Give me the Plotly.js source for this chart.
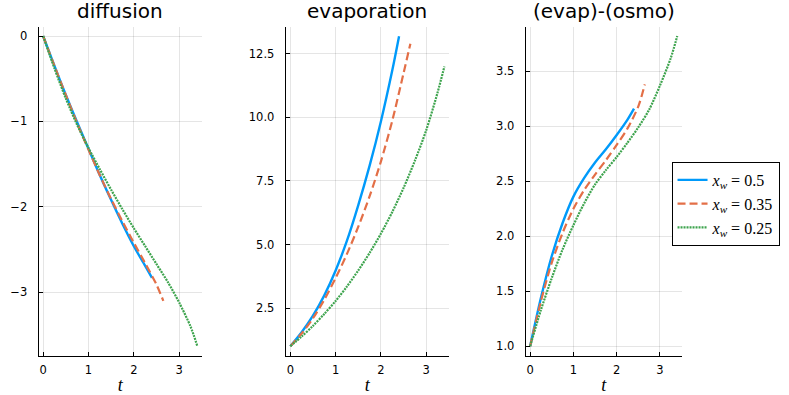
<!DOCTYPE html>
<html>
<head>
<meta charset="utf-8">
<script src="https://cdn.plot.ly/plotly-3.0.1.min.js"></script>
<style>
  html, body { margin: 0; padding: 0; background: #fff; }
  #plot { width: 789px; height: 395px; }
</style>
</head>
<body>
<div id="plot"></div>
<script>
// time points for each run (x_w = 0.5, 0.35, 0.25)
var tBlue   = [0, 0.25, 0.5, 0.75, 1, 1.25, 1.5, 1.75, 2, 2.25, 2.4];
var tOrange = [0, 0.25, 0.5, 0.75, 1, 1.25, 1.5, 1.75, 2, 2.25, 2.5, 2.65];
var tGreen  = [0, 0.25, 0.5, 0.75, 1, 1.25, 1.5, 1.75, 2, 2.25, 2.5, 2.75, 3, 3.25, 3.4];

// diffusion panel
var diffBlue   = [0, -0.35, -0.69, -1.01, -1.32, -1.63, -1.92, -2.20, -2.46, -2.69, -2.83];
var diffOrange = [0, -0.35, -0.69, -1.02, -1.33, -1.63, -1.91, -2.17, -2.42, -2.66, -2.91, -3.10];
var diffGreen  = [0, -0.38, -0.73, -1.04, -1.31, -1.56, -1.80, -2.03, -2.25, -2.46, -2.67, -2.88, -3.12, -3.40, -3.63];

// evaporation panel
var evapBlue   = [1.0, 1.55, 2.2, 3.0, 3.98, 5.15, 6.55, 8.1, 9.85, 11.85, 13.19];
var evapOrange = [1.0, 1.5, 2.1, 2.83, 3.68, 4.63, 5.7, 6.9, 8.27, 9.87, 11.75, 12.9];
var evapGreen  = [1.0, 1.38, 1.8, 2.27, 2.78, 3.35, 3.98, 4.67, 5.43, 6.28, 7.23, 8.3, 9.5, 10.98, 12.0];

// (evap)-(osmo) panel
var eoBlue   = [1.0, 1.44, 1.82, 2.12, 2.36, 2.53, 2.67, 2.79, 2.92, 3.06, 3.16];
var eoOrange = [1.0, 1.41, 1.76, 2.03, 2.25, 2.42, 2.56, 2.69, 2.83, 2.98, 3.18, 3.38];
var eoGreen  = [1.0, 1.33, 1.62, 1.88, 2.1, 2.3, 2.47, 2.6, 2.72, 2.85, 2.99, 3.15, 3.37, 3.62, 3.82];

var panelTitles = ["diffusion", "evaporation", "(evap)-(osmo)"];
var seriesNames = ["<i>x</i><sub><i>w</i></sub> = 0.5", "<i>x</i><sub><i>w</i></sub> = 0.35", "<i>x</i><sub><i>w</i></sub> = 0.25"];

var colors = ["#009AFA", "#E36F47", "#3EA44E"];
var dashes = ["solid", "8px,4px", "2px,1px"];
var widths = [2.4, 2.2, 2.2];

var tSets = [tBlue, tOrange, tGreen];
var panels = [
    [diffBlue, diffOrange, diffGreen],
    [evapBlue, evapOrange, evapGreen],
    [eoBlue, eoOrange, eoGreen]
];

var data = [];
for (let p = 0; p < 3; p++) {
    for (let s = 0; s < 3; s++) {
        data.push({
            x: tSets[s],
            y: panels[p][s],
            type: "scatter",
            mode: "lines",
            name: seriesNames[s],
            legendgroup: "s" + s,
            showlegend: p === 0,
            xaxis: p === 0 ? "x" : "x" + (p + 1),
            yaxis: p === 0 ? "y" : "y" + (p + 1),
            line: { color: colors[s], width: widths[s], dash: dashes[s], shape: "spline", smoothing: 0.8 }
        });
    }
}

// shared axis look (Plots.jl-like)
function xAxis(domain, anchor) {
    return {
        domain: domain,
        anchor: anchor,
        range: [-0.102, 3.502],
        tickvals: [0, 1, 2, 3],
        showgrid: true,
        gridcolor: "rgba(0,0,0,0.1)",
        gridwidth: 1,
        zeroline: false,
        showline: true,
        linecolor: "#000",
        linewidth: 1,
        ticks: "inside",
        ticklen: 4,
        tickcolor: "#000",
        ticklabelstandoff: 4,
        tickfont: { family: "DejaVu Sans", size: 11.5, color: "#000" },
        title: { text: "<i>t</i>", font: { family: "Liberation Serif", size: 18, color: "#000" }, standoff: 8 }
    };
}
function yAxis(domain, anchor, range, dtick, fmt) {
    return {
        domain: domain,
        anchor: anchor,
        range: range,
        dtick: dtick,
        tickformat: fmt,
        showgrid: true,
        gridcolor: "rgba(0,0,0,0.1)",
        gridwidth: 1,
        zeroline: false,
        showline: true,
        linecolor: "#000",
        linewidth: 1,
        ticks: "inside",
        ticklen: 4,
        tickcolor: "#000",
        ticklabelstandoff: 8,
        tickfont: { family: "DejaVu Sans", size: 11.5, color: "#000" }
    };
}

var yDom = [0.1, 0.9324];
var xDoms = [[0.0488, 0.2560], [0.3621, 0.5691], [0.6663, 0.8640]];

var annotations = panelTitles.map(function (txt, i) {
    return {
        text: txt,
        xref: "paper", yref: "paper",
        x: (xDoms[i][0] + xDoms[i][1]) / 2,
        y: 0.972,
        xanchor: "center", yanchor: "middle",
        showarrow: false,
        font: { family: "DejaVu Sans", size: 20, color: "#000" }
    };
});

var layout = {
    width: 789,
    height: 395,
    margin: { l: 0, r: 0, t: 0, b: 0 },
    paper_bgcolor: "#fff",
    plot_bgcolor: "#fff",
    xaxis: xAxis(xDoms[0], "y"),
    yaxis: yAxis(yDom, "x", [-3.739, 0.109], 1, ""),
    xaxis2: xAxis(xDoms[1], "y2"),
    yaxis2: yAxis(yDom, "x2", [0.634, 13.566], 2.5, ".1f"),
    xaxis3: xAxis(xDoms[2], "y3"),
    yaxis3: yAxis(yDom, "x3", [0.916, 3.904], 0.5, ".1f"),
    annotations: annotations,
    showlegend: true,
    legend: {
        x: 0.988, y: 0.59,
        xanchor: "right", yanchor: "top",
        bgcolor: "#fff",
        bordercolor: "#000",
        borderwidth: 1,
        itemwidth: 30,
        tracegroupgap: 0,
        font: { family: "Liberation Serif", size: 16, color: "#000" }
    }
};

Plotly.newPlot("plot", data, layout, { staticPlot: true });
</script>
</body>
</html>
